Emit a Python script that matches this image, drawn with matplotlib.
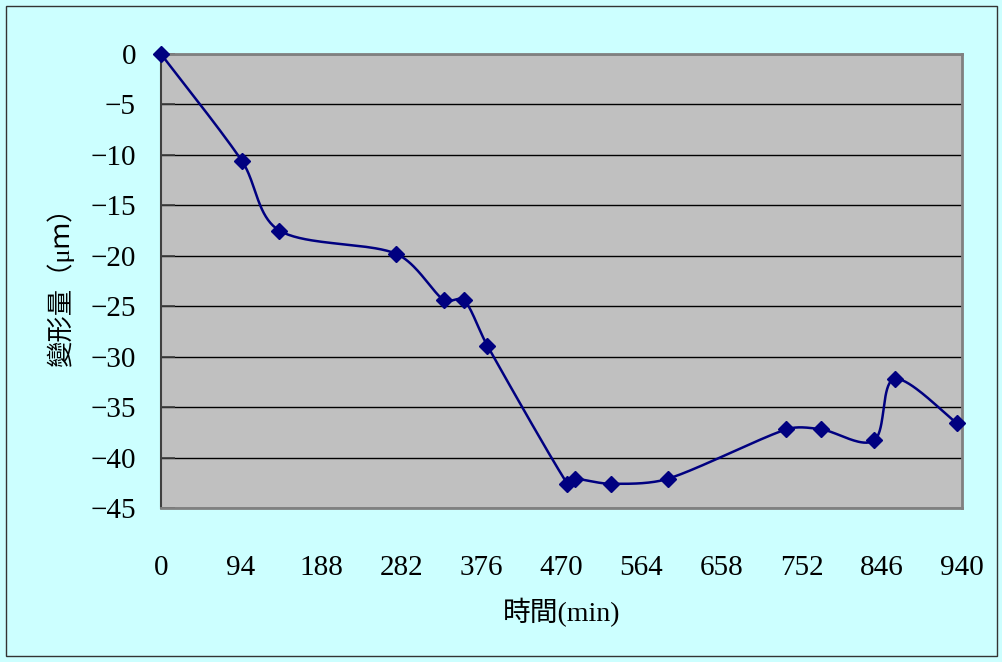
import numpy as np
import matplotlib.pyplot as plt
from matplotlib.patches import Rectangle

plt.rcParams['font.family'] = ['Liberation Serif', 'Noto Sans CJK TC']

# deformation measurements over time
time_min = [0, 95, 139, 276, 332, 356, 383, 477, 486, 528, 595, 734, 775, 837, 861, 934]
deform_um = [0, -10.6, -17.5, -19.8, -24.4, -24.4, -28.9, -42.6, -42.1, -42.6,
             -42.1, -37.2, -37.2, -38.3, -32.2, -36.6]

x_ticks = [0, 94, 188, 282, 376, 470, 564, 658, 752, 846, 940]
y_ticks = [0, -5, -10, -15, -20, -25, -30, -35, -40, -45]


def smooth_curve(x, y, sx=0.851, sy=10.07, n=40):
    # Bezier smoothing done in pixel-like units; handle length is capped
    # so that short segments do not loop
    p = np.column_stack([np.asarray(x) * sx, np.asarray(y) * sy]).astype(float)
    p = np.vstack([p[0], p, p[-1]])
    out = []
    t = np.linspace(0, 1, n)[:, None]
    for i in range(1, len(p) - 2):
        p0, p1, p2, p3 = p[i - 1], p[i], p[i + 1], p[i + 2]
        seg_len = np.hypot(*(p2 - p1))
        h1 = (p2 - p0) / 6
        h2 = (p3 - p1) / 6
        cap = seg_len / 3
        if np.hypot(*h1) > cap:
            h1 = h1 * cap / np.hypot(*h1)
        if np.hypot(*h2) > cap:
            h2 = h2 * cap / np.hypot(*h2)
        c1 = p1 + h1
        c2 = p2 - h2
        seg = ((1 - t) ** 3) * p1 + 3 * ((1 - t) ** 2) * t * c1 \
            + 3 * (1 - t) * t ** 2 * c2 + t ** 3 * p2
        out.append(seg if i == 1 else seg[1:])
    seg = np.vstack(out)
    return seg[:, 0] / sx, seg[:, 1] / sy


fig = plt.figure(figsize=(10.03, 6.62), dpi=100, facecolor='#CCFFFF')
fig.patches.append(Rectangle((0.006, 0.009), 0.988, 0.982, transform=fig.transFigure,
                             fill=False, edgecolor='#333333', lw=1.0))

ax = fig.add_axes([0.1605, 0.2326, 0.7985, 0.6858])
ax.set_facecolor('#C0C0C0')

sx, sy = smooth_curve(time_min, deform_um)
ax.plot(sx, sy, color='#000080', lw=1.8, clip_on=False, zorder=3)
ax.plot(time_min, deform_um, linestyle='none', marker='D', markersize=8.5,
        color='#000080', clip_on=False, zorder=4)

ax.set_xlim(0, 940)
ax.set_ylim(-45, 0)
ax.set_xticks(x_ticks)
ax.set_yticks(y_ticks)
ax.set_yticklabels(['0'] + ['\u2212%d' % abs(v) for v in y_ticks[1:]])
ax.yaxis.grid(True, color='black', lw=1.0)
ax.set_axisbelow(True)

ax.tick_params(axis='y', direction='in', length=10, width=1.2, color='#404040',
               labelsize=21, pad=18)
ax.tick_params(axis='x', length=0, labelsize=21, pad=34)

for side in ['top', 'right', 'bottom']:
    ax.spines[side].set_color('#808080')
    ax.spines[side].set_linewidth(2)
ax.spines['left'].set_color('#404040')
ax.spines['left'].set_linewidth(1.5)

ax.set_xlabel('時間(min)', fontsize=20, labelpad=12)
ax.set_ylabel('變形量（μｍ）', fontsize=19, labelpad=12)

fig.savefig('out.png', dpi=100, facecolor=fig.get_facecolor())
